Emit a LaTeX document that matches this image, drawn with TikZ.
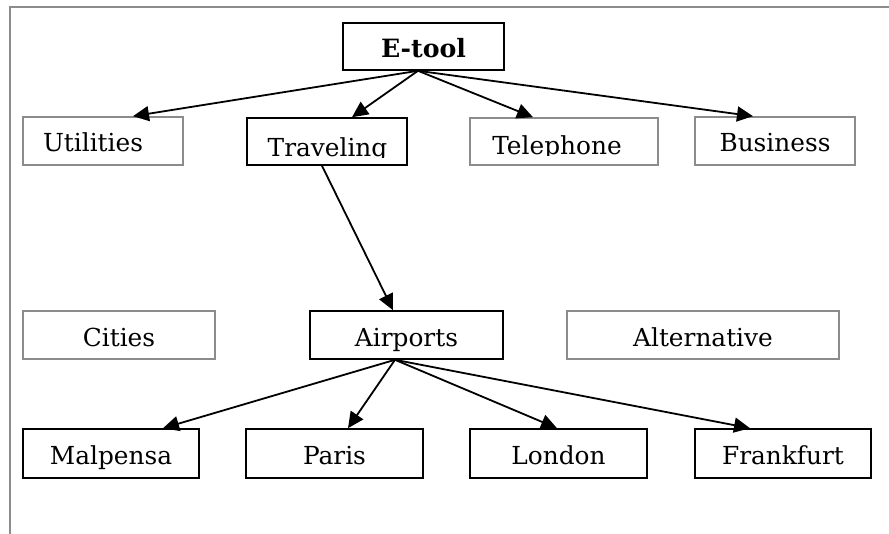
\documentclass[tikz,border=0pt]{standalone}
\usepackage{fontspec}
\setmainfont{DejaVu Serif}
\usetikzlibrary{arrows.meta}
\definecolor{framegray}{HTML}{8C8C8C}
\begin{document}
\begin{tikzpicture}[x=0.5pt,y=-0.5pt,
  every node/.style={font=\fontsize{12.4pt}{14pt}\selectfont, inner sep=0pt,
    text height=11pt, text depth=0pt, minimum height=24pt},
  bbox/.style={draw=black, line width=0.8pt},
  gbox/.style={draw=framegray, line width=0.8pt},
  conn/.style={line width=0.9pt, -{Triangle[length=8pt,width=7.5pt]}},
  framel/.style={draw=framegray, line width=0.9pt}]
\useasboundingbox (0,0) rectangle (889,534);
% frame
\coordinate (ftr) at (889,7);
\coordinate (ftl) at (10,7);
\coordinate (fbl) at (10,534);
\draw[framel] (ftr) -- (ftl) -- (fbl);
% top
\node[bbox, minimum width=80.5pt, minimum height=23.5pt, font=\fontsize{12.6pt}{14pt}\selectfont\bfseries] (etool) at (423.5,46.5) {E-tool};
% second row
\node[gbox, minimum width=80pt] (util) at (103,141) {Utilities\kern10pt};
\node[bbox, minimum width=80pt, minimum height=23.5pt] (trav) at (327,141.5) {};
\begin{scope}
  \clip (250,120) rectangle (405,158);
  \node[anchor=base, minimum height=0pt] (travtxt) at (327.5,157) {Traveling};
\end{scope}
\node[gbox, minimum width=94pt, minimum height=23.5pt] (tel) at (564,141.5) {};
\begin{scope}
  \clip (473,120) rectangle (656,156);
  \node[anchor=base, minimum height=0pt] (teltxt) at (557,155) {Telephone};
\end{scope}
\node[gbox, minimum width=80pt] (bus) at (775,141) {Business};
% third row
\node[gbox, minimum width=96pt] (cities) at (119,335) {Cities};
\node[bbox, minimum width=96.5pt] (airp) at (406.5,335) {Airports};
\node[gbox, minimum width=136pt] (alt) at (703,335) {Alternative};
% bottom row
\node[bbox, minimum width=88pt, minimum height=24.5pt] (malp) at (111,453.5) {Malpensa};
\node[bbox, minimum width=88.5pt, minimum height=24.5pt] (paris) at (334.5,453.5) {Paris};
\node[bbox, minimum width=88.5pt, minimum height=24.5pt] (london) at (558.5,453.5) {London};
\node[bbox, minimum width=88pt, minimum height=24.5pt] (frank) at (783,453.5) {Frankfurt};
% connectors
\draw[conn] ([xshift=-2.75pt]etool.south) -- ([xshift=15pt]util.north);
\draw[conn] ([xshift=-2.75pt]etool.south) -- ([xshift=12.5pt]trav.north);
\draw[conn] ([xshift=-2.75pt]etool.south) -- ([xshift=-15.5pt]tel.north);
\draw[conn] ([xshift=-2.75pt]etool.south) -- ([xshift=-11pt]bus.north);
\draw[conn] ([xshift=-2.5pt]trav.south) -- ([xshift=-6.75pt]airp.north);
\draw[conn] ([xshift=-5.75pt]airp.south) -- ([xshift=26pt]malp.north);
\draw[conn] ([xshift=-5.75pt]airp.south) -- ([xshift=6.75pt]paris.north);
\draw[conn] ([xshift=-5.75pt]airp.south) -- ([xshift=-0.75pt]london.north);
\draw[conn] ([xshift=-5.75pt]airp.south) -- ([xshift=-16.5pt]frank.north);
\end{tikzpicture}
\end{document}
